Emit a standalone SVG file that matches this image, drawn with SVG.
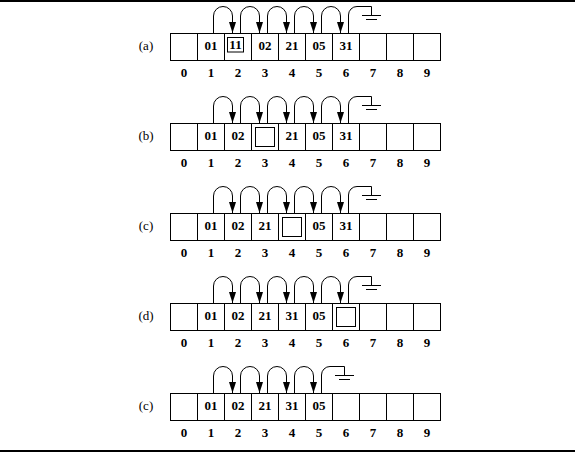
<svg xmlns="http://www.w3.org/2000/svg" width="575" height="452" viewBox="0 0 575 452">
<defs>
<style>
.cell{fill:#fff;stroke:#000;stroke-width:1}
.box{fill:none;stroke:#000;stroke-width:1}
.v{font-family:"Liberation Serif","DejaVu Serif",serif;font-weight:bold;font-size:13px;text-anchor:middle;fill:#000}
.lab{font-family:"Liberation Serif","DejaVu Serif",serif;font-size:13px;text-anchor:middle;fill:#000}
.c{fill:none;stroke:#000;stroke-width:1}
</style>
<marker id="ah" viewBox="0 0 11 7" refX="11" refY="3.5" markerWidth="11" markerHeight="7" markerUnits="userSpaceOnUse" orient="auto">
<path d="M0 0 L11 3.5 L0 7 z" fill="#000"/>
</marker>
<g id="cells">
<rect class="cell" x="170.5" y="33.5" width="27" height="27"/>
<rect class="cell" x="197.5" y="33.5" width="27" height="27"/>
<rect class="cell" x="224.5" y="33.5" width="27" height="27"/>
<rect class="cell" x="251.5" y="33.5" width="27" height="27"/>
<rect class="cell" x="278.5" y="33.5" width="27" height="27"/>
<rect class="cell" x="305.5" y="33.5" width="27" height="27"/>
<rect class="cell" x="332.5" y="33.5" width="27" height="27"/>
<rect class="cell" x="359.5" y="33.5" width="27" height="27"/>
<rect class="cell" x="386.5" y="33.5" width="27" height="27"/>
<rect class="cell" x="413.5" y="33.5" width="27" height="27"/>
</g>
<g id="idx">
<text class="v" x="184" y="77">0</text>
<text class="v" x="211" y="77">1</text>
<text class="v" x="238" y="77">2</text>
<text class="v" x="265" y="77">3</text>
<text class="v" x="292" y="77">4</text>
<text class="v" x="319" y="77">5</text>
<text class="v" x="346" y="77">6</text>
<text class="v" x="373" y="77">7</text>
<text class="v" x="400" y="77">8</text>
<text class="v" x="427" y="77">9</text>
</g>
</defs>
<rect x="0" y="0" width="575" height="2" fill="#000"/>
<rect x="0" y="450" width="575" height="2" fill="#000"/>

<g id="row-a">
<use href="#cells"/><use href="#idx"/>
<text class="lab" x="146" y="50">(a)</text>
<text class="v" x="211" y="50">01</text>
<rect class="box" x="227.5" y="37.5" width="16" height="14.5"/>
<text class="v" x="235.5" y="48.5">11</text>
<text class="v" x="265" y="50">02</text>
<text class="v" x="292" y="50">21</text>
<text class="v" x="319" y="50">05</text>
<text class="v" x="346" y="50">31</text>
</g>
<g id="row-b" transform="translate(0,90)">
<use href="#cells"/><use href="#idx"/>
<text class="lab" x="146" y="50">(b)</text>
<text class="v" x="211" y="50">01</text>
<text class="v" x="238" y="50">02</text>
<rect class="box" x="255.5" y="37.5" width="19" height="19"/>
<text class="v" x="292" y="50">21</text>
<text class="v" x="319" y="50">05</text>
<text class="v" x="346" y="50">31</text>
</g>
<g id="row-c" transform="translate(0,180)">
<use href="#cells"/><use href="#idx"/>
<text class="lab" x="146" y="50">(c)</text>
<text class="v" x="211" y="50">01</text>
<text class="v" x="238" y="50">02</text>
<text class="v" x="265" y="50">21</text>
<rect class="box" x="282.5" y="37.5" width="19" height="19"/>
<text class="v" x="319" y="50">05</text>
<text class="v" x="346" y="50">31</text>
</g>
<g id="row-d" transform="translate(0,270)">
<use href="#cells"/><use href="#idx"/>
<text class="lab" x="146" y="50">(d)</text>
<text class="v" x="211" y="50">01</text>
<text class="v" x="238" y="50">02</text>
<text class="v" x="265" y="50">21</text>
<text class="v" x="292" y="50">31</text>
<text class="v" x="319" y="50">05</text>
<rect class="box" x="336.5" y="37.5" width="19" height="19"/>
</g>
<g id="row-e" transform="translate(0,360)">
<use href="#cells"/><use href="#idx"/>
<text class="lab" x="146" y="50">(c)</text>
<text class="v" x="211" y="50">01</text>
<text class="v" x="238" y="50">02</text>
<text class="v" x="265" y="50">21</text>
<text class="v" x="292" y="50">31</text>
<text class="v" x="319" y="50">05</text>
</g>

<g id="connectors" class="c">
<g id="conn-a">
<path marker-end="url(#ah)" d="M213.5 33V16a9.5 9.5 0 0 1 19 0V33"/>
<path marker-end="url(#ah)" d="M240.5 33V16a9.5 9.5 0 0 1 19 0V33"/>
<path marker-end="url(#ah)" d="M267.5 33V16a9.5 9.5 0 0 1 19 0V33"/>
<path marker-end="url(#ah)" d="M294.5 33V16a9.5 9.5 0 0 1 19 0V33"/>
<path marker-end="url(#ah)" d="M321.5 33V16a9.5 9.5 0 0 1 19 0V33"/>
<path d="M348.5 33V15a8.5 8.5 0 0 1 8.5 -8.5H371.5V15.5M362 15.5H381M366 19.5H377"/>
</g>
<use href="#conn-a" transform="translate(0,90)"/>
<use href="#conn-a" transform="translate(0,180)"/>
<use href="#conn-a" transform="translate(0,270)"/>
<g id="conn-e" transform="translate(0,360)">
<path marker-end="url(#ah)" d="M213.5 33V16a9.5 9.5 0 0 1 19 0V33"/>
<path marker-end="url(#ah)" d="M240.5 33V16a9.5 9.5 0 0 1 19 0V33"/>
<path marker-end="url(#ah)" d="M267.5 33V16a9.5 9.5 0 0 1 19 0V33"/>
<path marker-end="url(#ah)" d="M294.5 33V16a9.5 9.5 0 0 1 19 0V33"/>
<path d="M321.5 33V15a8.5 8.5 0 0 1 8.5 -8.5H344.5V15.5M335 15.5H354M339 19.5H350"/>
</g>
</g>
</svg>
